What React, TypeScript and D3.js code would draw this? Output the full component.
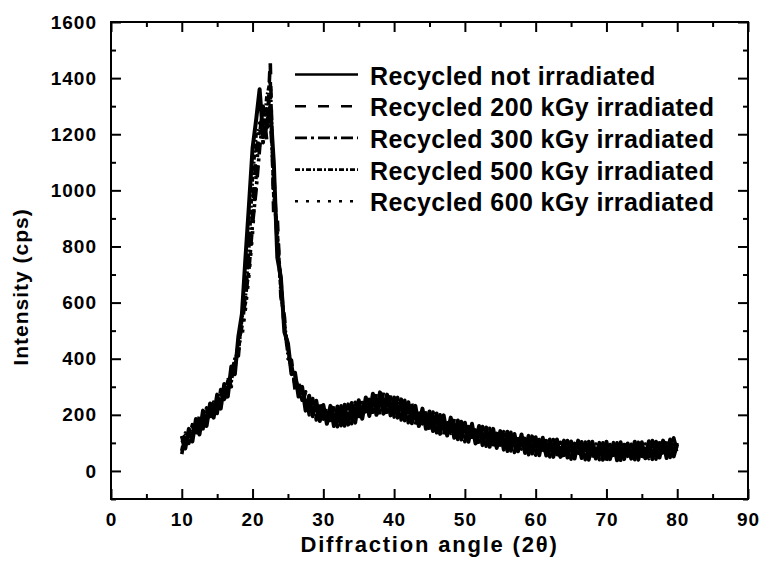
import React, { useEffect, useRef } from 'react';
import * as d3 from 'd3';

// 2-theta grid, 10 to 80 deg in 0.5 deg steps
const angles = d3.range(0, 141).map((i) => 10 + i * 0.5);

// intensities (cps)
const recycledNot = [
  125, 80, 150, 105, 185, 130, 215, 160, 240, 190, 272, 222, 310, 265, 372, 345, 480, 560, 760, 950,
  1150, 1250, 1360, 1190, 1230, 1300, 1100, 760, 690, 495, 455, 345, 350, 265, 300, 215, 268, 195, 250, 178,
  235, 168, 232, 160, 230, 162, 236, 165, 242, 172, 252, 186, 262, 196, 275, 200, 280, 204, 272, 198,
  262, 190, 255, 180, 245, 170, 232, 160, 222, 150, 212, 142, 205, 132, 198, 126, 190, 118, 180, 112,
  172, 104, 168, 98, 160, 92, 155, 86, 150, 82, 142, 76, 140, 72, 132, 70, 130, 64, 125, 62,
  120, 56, 118, 55, 112, 50, 112, 50, 108, 48, 105, 44, 108, 46, 102, 40, 104, 44, 100, 40,
  104, 42, 100, 38, 102, 42, 98, 44, 104, 40, 102, 45, 106, 42, 104, 48, 108, 46, 112, 52, 95,
];
const recycled200 = [
  60, 130, 98, 165, 125, 198, 150, 225, 178, 250, 205, 290, 240, 335, 300, 420, 410, 560, 600, 830,
  910, 1140, 1200, 1300, 1180, 1460, 900, 900, 620, 550, 400, 395, 290, 320, 238, 282, 200, 258, 182, 245,
  170, 238, 162, 234, 158, 232, 160, 238, 168, 245, 178, 256, 188, 268, 198, 278, 200, 282, 196, 270,
  192, 262, 182, 252, 172, 240, 162, 228, 152, 220, 142, 210, 136, 200, 128, 192, 120, 186, 112, 176,
  104, 170, 98, 165, 92, 158, 88, 152, 80, 148, 76, 140, 70, 138, 66, 132, 62, 128, 58, 124,
  56, 120, 52, 116, 50, 112, 46, 110, 45, 108, 42, 106, 44, 104, 40, 105, 38, 102, 40, 100,
  36, 104, 40, 100, 38, 102, 36, 105, 40, 102, 42, 104, 44, 108, 42, 110, 46, 112, 48, 118, 70,
];
const recycled300 = [
  110, 92, 140, 122, 172, 150, 198, 178, 226, 205, 255, 240, 292, 285, 350, 365, 455, 515, 620, 720,
  880, 1000, 1150, 1260, 1290, 1250, 1060, 800, 680, 505, 445, 355, 340, 280, 288, 235, 252, 210, 232, 192,
  220, 184, 215, 180, 212, 180, 215, 185, 222, 192, 232, 202, 242, 212, 252, 220, 255, 222, 252, 216,
  246, 208, 236, 198, 226, 186, 216, 176, 206, 166, 196, 158, 188, 150, 180, 142, 172, 134, 166, 126,
  158, 120, 152, 114, 146, 108, 140, 102, 134, 96, 128, 90, 124, 86, 120, 82, 116, 78, 112, 74,
  108, 70, 104, 68, 102, 64, 100, 62, 98, 60, 96, 58, 95, 56, 94, 55, 92, 54, 92, 52,
  90, 52, 90, 52, 90, 51, 90, 52, 92, 52, 92, 54, 94, 55, 94, 57, 96, 58, 98, 60, 100,
];
const recycled500 = [
  72, 135, 100, 160, 130, 190, 158, 218, 185, 245, 215, 280, 255, 320, 320, 400, 425, 545, 625, 805,
  1050, 1200, 1220, 1170, 1330, 1390, 980, 850, 640, 530, 415, 380, 305, 305, 252, 262, 218, 240, 198, 226,
  185, 218, 178, 216, 176, 220, 178, 225, 186, 232, 195, 244, 205, 255, 214, 262, 216, 262, 214, 256,
  208, 246, 198, 238, 188, 226, 178, 215, 168, 206, 158, 196, 150, 188, 142, 180, 134, 172, 126, 165,
  120, 158, 114, 152, 108, 146, 102, 140, 96, 134, 92, 130, 86, 125, 82, 122, 78, 118, 74, 114,
  70, 112, 66, 108, 64, 104, 60, 102, 58, 100, 56, 98, 55, 97, 54, 96, 52, 96, 52, 94,
  50, 94, 50, 95, 50, 94, 52, 95, 52, 95, 54, 96, 54, 98, 56, 100, 58, 102, 60, 104, 64,
];
const recycled600 = [
  100, 100, 132, 130, 160, 158, 190, 188, 218, 214, 248, 248, 285, 292, 342, 372, 450, 480, 580, 700,
  850, 1050, 1240, 1220, 1270, 1340, 1010, 830, 665, 515, 435, 365, 330, 290, 278, 244, 243, 218, 223, 200,
  210, 192, 207, 188, 204, 188, 207, 193, 214, 200, 224, 210, 234, 222, 244, 229, 247, 230, 244, 225,
  238, 216, 228, 206, 218, 194, 208, 184, 198, 174, 188, 166, 180, 158, 172, 150, 164, 142, 156, 134,
  148, 128, 142, 122, 136, 116, 130, 110, 124, 104, 120, 98, 116, 94, 112, 90, 108, 86, 104, 82,
  100, 78, 96, 76, 94, 72, 92, 70, 90, 68, 88, 66, 87, 65, 86, 64, 84, 63, 83, 62,
  83, 61, 82, 61, 82, 61, 82, 62, 83, 62, 84, 63, 85, 64, 86, 66, 88, 68, 90, 70, 90,
];

const seriesValues = [recycledNot, recycled200, recycled300, recycled500, recycled600];
const seriesNames = [
  'Recycled not irradiated',
  'Recycled 200 kGy irradiated',
  'Recycled 300 kGy irradiated',
  'Recycled 500 kGy irradiated',
  'Recycled 600 kGy irradiated',
];
const seriesDash = ['none', '11,12', '12,4,3,4', '5,2,2,2', '3,8'];

const xTicks = [0, 10, 20, 30, 40, 50, 60, 70, 80, 90];
const xMinor = [5, 15, 25, 35, 45, 55, 65, 75, 85];
const yTicks = [0, 200, 400, 600, 800, 1000, 1200, 1400, 1600];
const yMinor = [-100, 100, 300, 500, 700, 900, 1100, 1300, 1500];

const font = '"Liberation Sans", Arial, Helvetica, sans-serif';

export default function App() {
  const ref = useRef<SVGSVGElement>(null);

  useEffect(() => {
    if (!ref.current) return;
    const svg = d3.select(ref.current);
    svg.selectAll('*').remove();

    const left = 111, right = 748, top = 22, bottom = 499;
    const x = d3.scaleLinear().domain([0, 90]).range([left, right]);
    const y = d3.scaleLinear().domain([-100, 1600]).range([bottom, top]);

    // data lines (drawn heavy so the overlapping noisy scans merge into one band)
    const line = d3.line<number>()
      .x((d, i) => x(angles[i]))
      .y((d) => y(d));
    seriesValues.forEach((vals, k) => {
      svg.append('path')
        .datum(vals)
        .attr('d', line)
        .attr('fill', 'none')
        .attr('stroke', '#000')
        .attr('stroke-width', k === 0 ? 4 : 3.6)
        .attr('stroke-linejoin', 'round')
        .attr('stroke-dasharray', seriesDash[k] === 'none' ? null : seriesDash[k]);
    });

    // axes with inward ticks on all four sides
    const addAxis = (axis: any, tr: string, vals: number[], size: number, labels: boolean) => {
      const g = svg.append('g').attr('transform', tr)
        .call(axis.tickValues(vals).tickSize(-size).tickSizeOuter(0).tickPadding(14)
          .tickFormat(labels ? d3.format('d') : () => ''));
      g.select('.domain').remove();
      g.selectAll('line').attr('stroke', '#000').attr('stroke-width', 2);
      g.selectAll('text')
        .attr('font-family', font)
        .attr('font-weight', 'bold')
        .attr('font-size', 19)
        .attr('letter-spacing', 1)
        .attr('fill', '#000');
      return g;
    };
    addAxis(d3.axisBottom(x), `translate(0,${bottom})`, xTicks, 10, true);
    addAxis(d3.axisBottom(x), `translate(0,${bottom})`, xMinor, 5, false);
    addAxis(d3.axisTop(x), `translate(0,${top})`, xTicks, 10, false);
    addAxis(d3.axisTop(x), `translate(0,${top})`, xMinor, 5, false);
    addAxis(d3.axisLeft(y), `translate(${left},0)`, yTicks, 10, true);
    addAxis(d3.axisLeft(y), `translate(${left},0)`, yMinor, 5, false);
    addAxis(d3.axisRight(y), `translate(${right},0)`, yTicks, 10, false);
    addAxis(d3.axisRight(y), `translate(${right},0)`, yMinor, 5, false);

    svg.append('rect')
      .attr('x', left).attr('y', top)
      .attr('width', right - left).attr('height', bottom - top)
      .attr('fill', 'none').attr('stroke', '#000').attr('stroke-width', 2);

    // axis titles
    svg.append('text')
      .attr('x', (left + right) / 2).attr('y', 552)
      .attr('text-anchor', 'middle')
      .attr('font-family', font).attr('font-weight', 'bold').attr('font-size', 22)
      .attr('letter-spacing', 1.8)
      .text('Diffraction angle (2θ)');
    svg.append('text')
      .attr('transform', 'translate(28,287) rotate(-90)')
      .attr('text-anchor', 'middle')
      .attr('font-family', font).attr('font-weight', 'bold').attr('font-size', 21)
      .attr('letter-spacing', 1)
      .text('Intensity (cps)');

    // legend
    const legend = svg.append('g');
    seriesNames.forEach((name, k) => {
      const base = 84.5 + k * 31.7;
      legend.append('line')
        .attr('x1', 295).attr('x2', 358)
        .attr('y1', base - 10).attr('y2', base - 10)
        .attr('stroke', '#000').attr('stroke-width', 2.6)
        .attr('stroke-dasharray', seriesDash[k] === 'none' ? null : seriesDash[k]);
      legend.append('text')
        .attr('x', 370).attr('y', base)
        .attr('font-family', font).attr('font-weight', 'bold').attr('font-size', 25)
        .attr('letter-spacing', 0.4)
        .text(name);
    });
  }, []);

  return (
    <svg
      ref={ref}
      width={762}
      height={568}
      style={{ position: 'absolute', left: 0, top: 0, background: '#fff' }}
    />
  );
}
